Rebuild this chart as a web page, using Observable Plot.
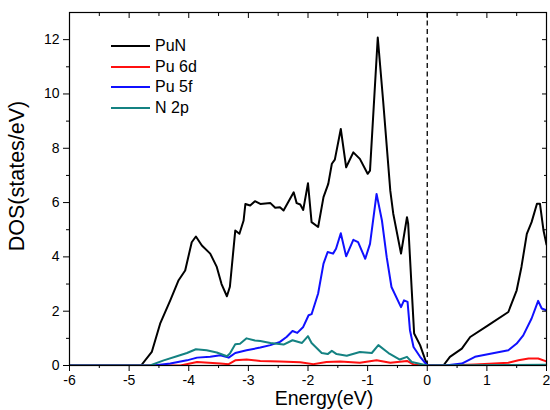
<!DOCTYPE html>
<html>
<head>
<meta charset="utf-8">
<script src="https://cdn.jsdelivr.net/npm/d3@7"></script>
<script src="https://cdn.jsdelivr.net/npm/@observablehq/plot@0.6"></script>
<style>
  html, body { margin: 0; padding: 0; background: #fff; }
  #wrap { position: relative; width: 550px; height: 410px; overflow: hidden; }
  #legend { position: absolute; left: 111px; top: 36px; font: 16px "Liberation Sans", Arial, sans-serif; color: #000; }
  #legend .row { display: flex; align-items: center; height: 20.5px; }
  #legend .sw { width: 39px; height: 0; border-top: 2.2px solid; margin-right: 5px; }
</style>
</head>
<body>
<div id="wrap"><div id="legend"></div></div>
<script>
// ---- data (energy in eV, DOS in states/eV) ----
const seriesNames = ["PuN", "Pu 6d", "Pu 5f", "N 2p"];
const seriesColors = ["#000000", "#ff1010", "#1010ff", "#148282"];

const PuN = [[-6,0],[-4.80,0],[-4.62,0.5],[-4.48,1.54],[-4.31,2.4],[-4.17,3.14],[-4.06,3.5],[-3.95,4.54],[-3.88,4.75],[-3.78,4.42],[-3.64,4.12],[-3.53,3.63],[-3.45,3.0],[-3.36,2.55],[-3.31,2.9],[-3.22,4.97],[-3.15,4.85],[-3.08,5.34],[-3.05,5.95],[-2.97,5.89],[-2.89,6.05],[-2.80,5.95],[-2.63,5.98],[-2.55,5.81],[-2.47,5.83],[-2.41,5.71],[-2.24,6.38],[-2.19,5.98],[-2.13,5.93],[-2.08,5.73],[-2.0,6.71],[-1.94,5.28],[-1.83,5.1],[-1.74,6.2],[-1.66,6.69],[-1.60,7.43],[-1.55,7.58],[-1.45,8.71],[-1.36,7.3],[-1.24,7.85],[-1.13,7.61],[-1.0,7.06],[-0.96,7.18],[-0.83,12.08],[-0.74,9.75],[-0.62,6.44],[-0.57,5.59],[-0.44,4.12],[-0.34,5.46],[-0.32,5.22],[-0.26,2.77],[-0.22,1.18],[-0.12,0.75],[0,0],[0.27,0],[0.38,0.32],[0.58,0.62],[0.72,1.05],[1.02,1.48],[1.36,1.97],[1.50,2.77],[1.58,3.63],[1.67,4.85],[1.75,5.28],[1.84,5.96],[1.89,5.96],[1.95,4.97],[2.0,4.45]];

const Pu6d = [[-6,0],[-4.14,0],[-3.86,0.13],[-3.47,0.07],[-3.33,0.05],[-3.22,0.19],[-3.03,0.22],[-2.80,0.17],[-2.47,0.15],[-2.13,0.12],[-1.91,0.05],[-1.69,0.13],[-1.46,0.15],[-1.13,0.1],[-0.85,0.19],[-0.62,0.1],[-0.34,0.17],[-0.23,0.04],[-0.1,0],[0.3,0],[0.8,0.04],[1.36,0.1],[1.53,0.19],[1.70,0.26],[1.86,0.26],[2.0,0.15]];

const Pu5f = [[-6,0],[-4.59,0],[-4.31,0.07],[-4.03,0.19],[-3.86,0.29],[-3.64,0.32],[-3.47,0.38],[-3.33,0.29],[-3.22,0.46],[-3.03,0.56],[-2.80,0.66],[-2.63,0.75],[-2.47,0.87],[-2.36,1.05],[-2.26,1.27],[-2.18,1.2],[-2.08,1.42],[-1.99,1.85],[-1.94,1.89],[-1.83,2.65],[-1.74,3.75],[-1.67,4.18],[-1.58,4.12],[-1.53,4.3],[-1.45,4.87],[-1.36,4.02],[-1.24,4.63],[-1.16,4.54],[-1.04,3.93],[-0.96,4.48],[-0.85,6.32],[-0.76,5.34],[-0.68,3.99],[-0.60,2.89],[-0.44,2.15],[-0.39,2.4],[-0.33,2.34],[-0.29,1.30],[-0.23,0.68],[-0.12,0.32],[0,0],[0.30,0],[0.58,0.07],[0.80,0.32],[1.08,0.44],[1.36,0.56],[1.50,0.81],[1.61,1.11],[1.75,1.73],[1.86,2.38],[1.92,2.10],[2.0,2.03]];

const N2p = [[-6,0],[-4.65,0],[-4.42,0.19],[-4.20,0.34],[-4.03,0.46],[-3.88,0.6],[-3.70,0.56],[-3.53,0.48],[-3.36,0.34],[-3.31,0.44],[-3.22,0.78],[-3.14,0.8],[-3.03,1.0],[-2.89,0.92],[-2.80,0.9],[-2.63,0.83],[-2.41,0.77],[-2.26,0.93],[-2.10,0.83],[-2.0,1.08],[-1.94,0.83],[-1.77,0.46],[-1.67,0.42],[-1.60,0.54],[-1.52,0.42],[-1.35,0.36],[-1.13,0.5],[-0.93,0.46],[-0.82,0.75],[-0.65,0.46],[-0.46,0.22],[-0.34,0.32],[-0.26,0.13],[0,0],[2,0.03]];

const xMajor = [-6, -5, -4, -3, -2, -1, 0, 1, 2];
const xMinor = [-5.5, -4.5, -3.5, -2.5, -1.5, -0.5, 0.5, 1.5];
const yMajor = [0, 2, 4, 6, 8, 10, 12];
const yMinor = [1, 3, 5, 7, 9, 11];
const fermi = [0];

const allSeries = [PuN, Pu6d, Pu5f, N2p];
const table = allSeries.flatMap((s, i) => s.map(([e, v]) => ({e, v, name: seriesNames[i]})));
const drawOrder = ["PuN", "Pu 6d", "Pu 5f", "N 2p"];

const font = '"Liberation Sans", Arial, sans-serif';

const plot = Plot.plot({
  width: 550,
  height: 410,
  marginLeft: 69,
  marginRight: 4,
  marginTop: 12,
  marginBottom: 45,
  style: {fontFamily: font, fontSize: "14px", color: "#000", background: "#fff"},
  x: {domain: [-6, 2]},
  y: {domain: [0, 13]},
  color: {domain: seriesNames, range: seriesColors},
  marks: [
    Plot.ruleX(fermi, {stroke: "#000", strokeWidth: 1.3, strokeDasharray: "5,3.5"}),
    ...drawOrder.map(n => Plot.line(table.filter(d => d.name === n), {x: "e", y: "v", stroke: "name", strokeWidth: 2, clip: true})),
    Plot.frame({stroke: "#000", strokeWidth: 1.2}),
    Plot.axisX({ticks: xMajor, tickSize: 6, tickPadding: 4, tickFormat: d => d, label: null, fontSize: 14}),
    Plot.axisX({ticks: xMinor, tickSize: 3, tickFormat: () => "", label: null}),
    Plot.axisX({anchor: "top", ticks: xMajor, tickSize: -5, tickFormat: () => "", label: null}),
    Plot.axisX({anchor: "top", ticks: xMinor, tickSize: -3, tickFormat: () => "", label: null}),
    Plot.axisY({ticks: yMajor, tickSize: 6, tickPadding: 4, tickFormat: d => d, label: null, fontSize: 14}),
    Plot.axisY({ticks: yMinor, tickSize: 3, tickFormat: () => "", label: null}),
    Plot.axisY({anchor: "right", ticks: yMajor, tickSize: -5, tickFormat: () => "", label: null}),
    Plot.axisY({anchor: "right", ticks: yMinor, tickSize: -3, tickFormat: () => "", label: null}),
    Plot.text(["Energy(eV)"], {frameAnchor: "bottom", dx: 16, dy: 33.5, text: d => d, fontSize: 19.5, textAnchor: "middle", lineAnchor: "middle", fill: "#000"}),
    Plot.text(["DOS(states/eV)"], {frameAnchor: "left", dx: -52, dy: -13, rotate: -90, text: d => d, fontSize: 21.5, textAnchor: "middle", lineAnchor: "middle", fill: "#000"})
  ]
});
document.getElementById("wrap").prepend(plot);

const legend = document.getElementById("legend");
seriesNames.forEach((n, i) => {
  const row = document.createElement("div");
  row.className = "row";
  const sw = document.createElement("span");
  sw.className = "sw";
  sw.style.borderTopColor = seriesColors[i];
  const t = document.createElement("span");
  t.textContent = n;
  row.append(sw, t);
  legend.append(row);
});
</script>
</body>
</html>
